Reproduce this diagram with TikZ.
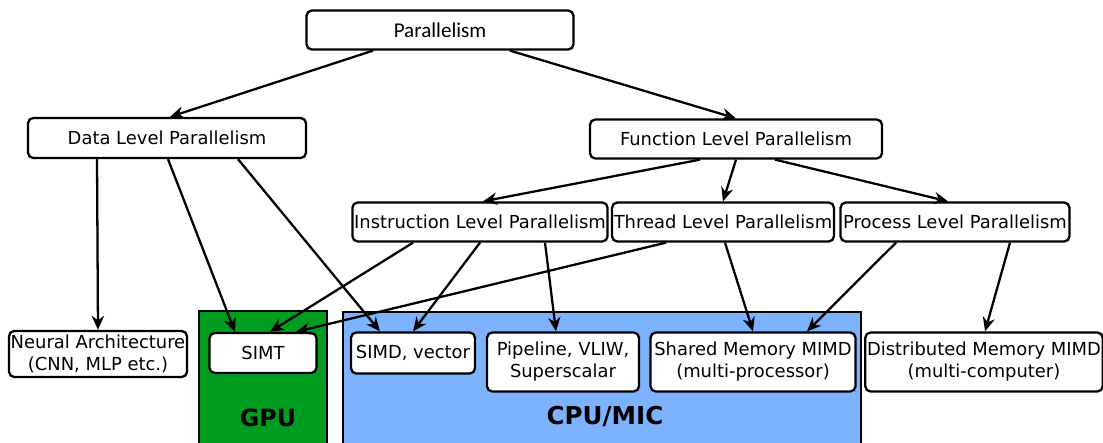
\documentclass[tikz,border=0pt]{standalone}
\usepackage{fontspec}
\setmainfont{DejaVu Sans}
\newfontfamily\topfont{Carlito}
\usetikzlibrary{arrows.meta}

\begin{document}
\begin{tikzpicture}[x=0.02cm,y=-0.02cm,
  box/.style={draw,line width=1.3pt,rounded corners=3pt,fill=white,inner sep=1pt,align=center,font=\fontsize{10.2}{12.5}\selectfont},
  arr/.style={-{Stealth[length=8pt,width=7pt]},line width=1.3pt}]
\def\u{0.02cm}
\useasboundingbox (0,0) rectangle (1103,443);
% hardware regions
\draw[line width=1.3pt,fill={rgb,255:red,0;green,158;blue,32}] (199,311) rectangle (327,445);
\draw[line width=1.3pt,fill={rgb,255:red,125;green,178;blue,255}] (343,312) rectangle (861,445);
\node[font=\bfseries\fontsize{13.5}{16}\selectfont] (gpu) at (268,418) {GPU};
\node[font=\bfseries\fontsize{14}{16}\selectfont] (cpu) at (605,417) {CPU/MIC};
% tree
\node[box,font=\topfont\fontsize{12}{14}\selectfont,minimum width=267*\u,minimum height=39*\u] (par) at (440,30) {Parallelism};
\node[box,minimum width=278*\u,minimum height=40*\u] (dlp) at (167,138) {Data Level Parallelism};
\node[box,minimum width=292*\u,minimum height=39*\u] (flp) at (736,139) {Function Level Parallelism};
\node[box,minimum width=253*\u,minimum height=39*\u] (ilp) at (480,222) {Instruction Level Parallelism};
\node[box,minimum width=218*\u,minimum height=39*\u] (tlp) at (723,222) {Thread Level Parallelism};
\node[box,minimum width=229*\u,minimum height=39*\u] (plp) at (955,222) {Process Level Parallelism};
% leaves
\node[box,minimum width=176*\u,minimum height=46*\u] (nn) at (98,354) {Neural Architecture\\(CNN, MLP etc.)};
\node[box,minimum width=107*\u,minimum height=40*\u] (simt) at (263,353) {SIMT};
\node[box,minimum width=124*\u,minimum height=41*\u] (simd) at (413,353) {SIMD, vector};
\node[box,minimum width=152*\u,minimum height=59*\u] (pipe) at (563,362) {Pipeline, VLIW,\\Superscalar};
\node[box,minimum width=205*\u,minimum height=59*\u] (smem) at (753,362) {Shared Memory MIMD\\(multi-processor)};
\node[box,minimum width=236*\u,minimum height=59*\u] (dmem) at (984,362) {Distributed Memory MIMD\\(multi-computer)};
% connectors
\draw[arr] ([xshift=-67*\u]par.south) -- ([xshift=3*\u]dlp.north);
\draw[arr] ([xshift=70*\u]par.south) -- (flp.north);
\draw[arr] ([xshift=-36*\u]flp.south) -- ([xshift=3*\u]ilp.north);
\draw[arr] (flp.south) -- (tlp.north);
\draw[arr] ([xshift=39*\u]flp.south) -- ([xshift=-7*\u]plp.north);
\draw[arr] ([xshift=-70*\u]dlp.south) -- (nn.north);
\draw[arr] ([xshift=1*\u]dlp.south) -- ([xshift=-28*\u]simt.north);
\draw[arr] ([xshift=71*\u]dlp.south) -- ([xshift=-33*\u]simd.north);
\draw[arr] ([xshift=-67*\u]ilp.south) -- ([xshift=7*\u]simt.north);
\draw[arr] (ilp.south) -- (simd.north);
\draw[arr] ([xshift=65*\u]ilp.south) -- ([xshift=-7*\u]pipe.north);
\draw[arr] ([xshift=-57*\u]tlp.south) -- ([xshift=33*\u]simt.north);
\draw[arr] ([xshift=2*\u]tlp.south) -- (smem.north);
\draw[arr] ([xshift=-59*\u]plp.south) -- ([xshift=54*\u]smem.north);
\draw[arr] ([xshift=55*\u]plp.south) -- ([xshift=1*\u]dmem.north);
\end{tikzpicture}
\end{document}
